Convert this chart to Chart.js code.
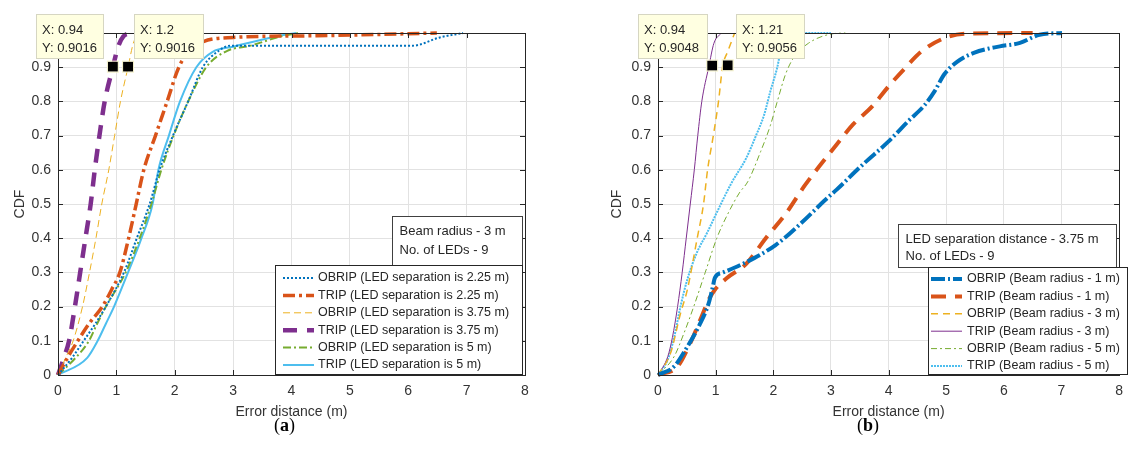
<!DOCTYPE html>
<html>
<head>
<meta charset="utf-8">
<script src="https://cdn.jsdelivr.net/npm/chart.js@4.4.0/dist/chart.umd.min.js"></script>
<style>
  body { margin: 0; background: #fff; width: 1131px; height: 467px; overflow: hidden; position: relative; }
  canvas { position: absolute; top: 0; }
  #chartA { left: 0; }
  #chartB { left: 580px; }
  .panel { position: absolute; top: 416px; font-family: "Liberation Serif", "DejaVu Serif", serif; font-size: 18px; line-height: 18px; color: #000; }
</style>
</head>
<body>
<canvas id="chartA" width="560" height="440"></canvas>
<canvas id="chartB" width="551" height="440"></canvas>
<div class="panel" style="left:274px">(<b>a</b>)</div>
<div class="panel" style="left:857px">(<b>b</b>)</div>
<script>
// ---------- panel (a): beam radius 3 m, different LED separations ----------
const errA_obrip225 = [0, 0.24, 0.44, 0.64, 0.82, 1.13, 1.35, 1.57, 1.74, 1.97, 2.23, 2.48, 2.77, 2.95, 4.5, 6.08, 6.54, 6.94];
const cdfA_obrip225 = [0, 0.05, 0.1, 0.15, 0.2, 0.3, 0.4, 0.5, 0.6, 0.7, 0.8, 0.9, 0.95, 0.963, 0.963, 0.963, 0.987, 1.0];
const errA_trip225 = [0, 0.16, 0.34, 0.53, 0.76, 0.92, 1.06, 1.21, 1.34, 1.47, 1.67, 1.87, 2.07, 2.26, 2.49, 3.0, 4.43, 6.49];
const cdfA_trip225 = [0, 0.05, 0.1, 0.15, 0.2, 0.25, 0.3, 0.4, 0.5, 0.6, 0.7, 0.8, 0.9, 0.95, 0.975, 0.987, 0.992, 1.0];
const errA_obrip375 = [0, 0.13, 0.26, 0.42, 0.54, 0.65, 0.75, 0.87, 0.97, 1.07, 1.2, 1.29, 1.38];
const cdfA_obrip375 = [0, 0.05, 0.1, 0.2, 0.3, 0.4, 0.5, 0.6, 0.7, 0.8, 0.9, 0.97, 1.0];
const errA_trip375 = [0, 0.1, 0.19, 0.29, 0.38, 0.47, 0.56, 0.63, 0.71, 0.8, 0.94, 1.03, 1.12, 1.25];
const cdfA_trip375 = [0, 0.05, 0.1, 0.2, 0.3, 0.4, 0.5, 0.6, 0.7, 0.8, 0.9, 0.96, 0.99, 1.0];
const errA_obrip5 = [0, 0.3, 0.53, 0.67, 0.82, 1.16, 1.4, 1.6, 1.77, 1.98, 2.23, 2.54, 2.9, 3.3, 3.86, 4.14];
const cdfA_obrip5 = [0, 0.05, 0.1, 0.15, 0.2, 0.3, 0.4, 0.5, 0.6, 0.7, 0.8, 0.9, 0.948, 0.963, 0.992, 1.0];
const errA_trip5 = [0, 0.5, 0.68, 0.82, 0.96, 1.2, 1.43, 1.62, 1.72, 1.9, 2.09, 2.37, 2.65, 3.0, 3.74, 4.08];
const cdfA_trip5 = [0, 0.05, 0.1, 0.15, 0.2, 0.3, 0.4, 0.5, 0.6, 0.7, 0.8, 0.9, 0.945, 0.96, 0.99, 1.0];
const labelsA = [
  'OBRIP (LED separation is 2.25 m)',
  'TRIP (LED separation is 2.25 m)',
  'OBRIP (LED separation is 3.75 m)',
  'TRIP (LED separation is 3.75 m)',
  'OBRIP (LED separation is 5 m)',
  'TRIP (LED separation is 5 m)'
];
const noteA = ['Beam radius - 3 m', 'No. of LEDs - 9'];
const tipsA = [[0.94, 0.9016], [1.2, 0.9016]];

// ---------- panel (b): LED separation 3.75 m, different beam radii ----------
const errB_obrip1 = [0, 0.28, 0.51, 0.73, 0.88, 0.94, 0.99, 1.13, 1.53, 2.04, 2.49, 2.89, 3.1, 3.55, 4.0, 4.34, 4.63, 4.8, 4.97, 5.2, 5.48, 5.93, 6.28, 6.62, 7.01];
const cdfB_obrip1 = [0, 0.025, 0.083, 0.15, 0.21, 0.25, 0.285, 0.3, 0.33, 0.38, 0.445, 0.51, 0.542, 0.615, 0.683, 0.742, 0.79, 0.83, 0.88, 0.917, 0.942, 0.961, 0.971, 0.995, 1.0];
const errB_trip1 = [0, 0.34, 0.56, 0.73, 0.88, 0.99, 1.19, 1.53, 1.87, 2.21, 2.55, 3.1, 3.38, 3.72, 4.0, 4.29, 4.57, 4.97, 5.36, 6.5];
const cdfB_trip1 = [0, 0.025, 0.093, 0.16, 0.22, 0.25, 0.283, 0.325, 0.4, 0.47, 0.555, 0.674, 0.732, 0.786, 0.844, 0.898, 0.946, 0.985, 0.998, 1.0];
const errB_obrip3 = [0, 0.22, 0.39, 0.51, 0.68, 0.79, 0.86, 0.96, 1.05, 1.12, 1.22, 1.33];
const cdfB_obrip3 = [0, 0.065, 0.18, 0.25, 0.4, 0.5, 0.6, 0.7, 0.8, 0.9, 0.95, 1.0];
const errB_trip3 = [0, 0.17, 0.25, 0.34, 0.42, 0.49, 0.56, 0.63, 0.69, 0.76, 0.88, 0.97, 1.1];
const cdfB_trip3 = [0, 0.054, 0.11, 0.2, 0.3, 0.4, 0.5, 0.6, 0.7, 0.8, 0.9, 0.97, 1.0];
const errB_obrip5 = [0, 0.28, 0.45, 0.62, 0.82, 1.02, 1.22, 1.41, 1.56, 1.78, 1.95, 2.07, 2.21, 2.35, 2.61, 3.0, 3.25];
const cdfB_obrip5 = [0, 0.054, 0.122, 0.2, 0.3, 0.4, 0.474, 0.532, 0.566, 0.653, 0.73, 0.8, 0.878, 0.927, 0.97, 0.997, 1.0];
const errB_trip5 = [0, 0.17, 0.28, 0.39, 0.51, 0.68, 0.85, 1.02, 1.27, 1.53, 1.7, 1.84, 1.95, 2.07, 2.15, 2.32, 2.5, 3.0];
const cdfB_trip5 = [0, 0.045, 0.11, 0.2, 0.28, 0.36, 0.415, 0.475, 0.56, 0.634, 0.7, 0.76, 0.83, 0.9, 0.966, 0.995, 1.0, 1.0];
const labelsB = [
  'OBRIP (Beam radius - 1 m)',
  'TRIP (Beam radius - 1 m)',
  'OBRIP (Beam radius - 3 m)',
  'TRIP (Beam radius - 3 m)',
  'OBRIP (Beam radius - 5 m)',
  'TRIP (Beam radius - 5 m)'
];
const noteB = ['LED separation distance - 3.75 m', 'No. of LEDs - 9'];
const tipsB = [[0.94, 0.9048], [1.21, 0.9056]];

const xTicks = [0, 1, 2, 3, 4, 5, 6, 7, 8];

// matlab default colours
const BLUE = '#0072BD', RED = '#D95319', YELLOW = '#EDB120', PURPLE = '#7E2F8E', GREEN = '#77AC30', CYAN = '#4DBEEE';
const FONT = '"Liberation Sans", Arial, Helvetica, sans-serif';
const INK = '#262626';

Chart.defaults.font.family = FONT;
Chart.defaults.color = '#333';

function pts(xs, ys) {
  return xs.map((x, i) => ({ x: x, y: ys[i] }));
}

function series(label, xs, ys, color, width, dash) {
  return {
    label: label,
    data: pts(xs, ys),
    borderColor: color,
    borderWidth: width,
    borderDash: dash,
    showLine: true,
    pointRadius: 0,
    cubicInterpolationMode: 'monotone',
    fill: false,
    clip: false
  };
}

// draws the matlab box, inner ticks, text box, legend and data tips
const matlabFrame = {
  id: 'matlabFrame',
  afterDatasetsDraw(chart, args, o) {
    const ctx = chart.ctx, a = chart.chartArea;
    const xs = chart.scales.x, ys = chart.scales.y;
    ctx.save();
    ctx.setLineDash([]);
    ctx.lineWidth = 1;
    ctx.strokeStyle = INK;
    ctx.beginPath();
    xs.ticks.forEach(t => {
      const p = Math.round(xs.getPixelForValue(t.value)) + 0.5;
      ctx.moveTo(p, a.bottom); ctx.lineTo(p, a.bottom - 5);
      ctx.moveTo(p, a.top); ctx.lineTo(p, a.top + 5);
    });
    ys.ticks.forEach(t => {
      const p = Math.round(ys.getPixelForValue(t.value)) + 0.5;
      ctx.moveTo(a.left, p); ctx.lineTo(a.left + 5, p);
      ctx.moveTo(a.right, p); ctx.lineTo(a.right - 5, p);
    });
    ctx.stroke();
    ctx.strokeRect(Math.round(a.left) + 0.5, Math.round(a.top) + 0.5, Math.round(a.width), Math.round(a.height));

    // text box
    const n = o.note;
    ctx.fillStyle = '#fff';
    ctx.fillRect(n.x, n.y, n.w, n.h);
    ctx.strokeStyle = '#404040';
    ctx.strokeRect(n.x + 0.5, n.y + 0.5, n.w, n.h);
    ctx.fillStyle = INK;
    ctx.font = '13px ' + FONT;
    ctx.textBaseline = 'middle';
    ctx.textAlign = 'left';
    n.lines.forEach((s, i) => ctx.fillText(s, n.x + n.pad, n.y + n.first + i * n.gap));

    // legend
    const L = o.legend;
    ctx.fillStyle = '#fff';
    ctx.fillRect(L.x, L.y, L.w, L.h);
    ctx.strokeStyle = INK;
    ctx.strokeRect(L.x + 0.5, L.y + 0.5, L.w, L.h);
    ctx.font = '12.5px ' + FONT;
    chart.data.datasets.forEach((ds, i) => {
      const yy = L.y + L.first + i * L.gap;
      ctx.strokeStyle = ds.borderColor;
      ctx.lineWidth = ds.borderWidth;
      ctx.setLineDash(ds.borderDash || []);
      ctx.beginPath();
      ctx.moveTo(L.x + L.s0, yy);
      ctx.lineTo(L.x + L.s1, yy);
      ctx.stroke();
      ctx.setLineDash([]);
      ctx.fillStyle = INK;
      ctx.fillText(ds.label, L.x + L.tx, yy);
    });

    // data tips
    ctx.lineWidth = 1;
    ctx.font = '13px ' + FONT;
    o.tips.forEach((t, i) => {
      const b = o.tipBoxes[i];
      ctx.fillStyle = '#ffffe1';
      ctx.fillRect(b[0], b[1], b[2], b[3]);
      ctx.strokeStyle = '#d6d6c2';
      ctx.strokeRect(b[0] + 0.5, b[1] + 0.5, b[2], b[3]);
      ctx.fillStyle = INK;
      ctx.fillText('X: ' + t[0], b[0] + 6, b[1] + 16);
      ctx.fillText('Y: ' + t[1], b[0] + 6, b[1] + 34);
      const mx = xs.getPixelForValue(t[0]), my = ys.getPixelForValue(t[1]);
      ctx.fillStyle = '#000';
      ctx.fillRect(mx - 5, my - 5, 10, 10);
      ctx.strokeStyle = '#f3f0c8';
      ctx.strokeRect(mx - 5.5, my - 5.5, 11, 11);
    });
    ctx.restore();
  }
};

function makeOptions(yWidth, padRight, cdfPad, frameOpts) {
  return {
    responsive: false,
    maintainAspectRatio: false,
    animation: false,
    layout: { padding: { left: 0, top: 33, right: padRight, bottom: 0 } },
    plugins: {
      legend: { display: false },
      tooltip: { enabled: false },
      matlabFrame: frameOpts
    },
    scales: {
      x: {
        type: 'linear', min: 0, max: 8,
        afterBuildTicks: s => { s.ticks = xTicks.map(v => ({ value: v })); },
        ticks: { padding: 8, color: '#333', font: { size: 14 }, maxRotation: 0 },
        grid: { color: '#e2e2e2', drawTicks: false },
        border: { display: false },
        title: { display: true, text: 'Error distance (m)', color: '#333', font: { size: 14 }, padding: { top: 0, bottom: 19 } },
        afterFit: s => { s.height = 65; }
      },
      y: {
        type: 'linear', min: 0, max: 1,
        ticks: { stepSize: 0.1, padding: 7, color: '#333', font: { size: 14 }, callback: v => String(Math.round(v * 10) / 10) },
        grid: { color: '#e2e2e2', drawTicks: false },
        border: { display: false },
        title: { display: true, text: 'CDF', color: '#333', font: { size: 14 }, padding: { top: cdfPad, bottom: 0 } },
        afterFit: s => { s.width = yWidth; }
      }
    }
  };
}

new Chart(document.getElementById('chartA'), {
  type: 'scatter',
  plugins: [matlabFrame],
  data: {
    datasets: [
      series(labelsA[0], errA_obrip225, cdfA_obrip225, BLUE, 2, [2, 2]),
      series(labelsA[1], errA_trip225, cdfA_trip225, RED, 3.5, [12, 4, 3, 4]),
      series(labelsA[2], errA_obrip375, cdfA_obrip375, YELLOW, 1, [7, 4]),
      series(labelsA[3], errA_trip375, cdfA_trip375, PURPLE, 4.5, [14, 10]),
      series(labelsA[4], errA_obrip5, cdfA_obrip5, GREEN, 2, [8, 3, 2, 3]),
      series(labelsA[5], errA_trip5, cdfA_trip5, CYAN, 2, [])
    ]
  },
  options: makeOptions(58, 35, 12, {
    note: { x: 392, y: 216, w: 130, h: 49, pad: 7.5, first: 15.7, gap: 18.3, lines: noteA },
    legend: { x: 275, y: 265, w: 247, h: 109, s0: 8, s1: 39, tx: 43, first: 13, gap: 17.4 },
    tips: tipsA,
    tipBoxes: [[36, 14, 67, 44], [134, 14, 69, 44]]
  })
});

new Chart(document.getElementById('chartB'), {
  type: 'scatter',
  plugins: [matlabFrame],
  data: {
    datasets: [
      series(labelsB[0], errB_obrip1, cdfB_obrip1, BLUE, 4, [14, 3, 2, 3]),
      series(labelsB[1], errB_trip1, cdfB_trip1, RED, 4, [15, 9]),
      series(labelsB[2], errB_obrip3, cdfB_obrip3, YELLOW, 1.5, [7, 5]),
      series(labelsB[3], errB_trip3, cdfB_trip3, PURPLE, 1, []),
      series(labelsB[4], errB_obrip5, cdfB_obrip5, GREEN, 1, [6, 3, 2, 3]),
      series(labelsB[5], errB_trip5, cdfB_trip5, CYAN, 2, [2, 1])
    ]
  },
  options: makeOptions(78, 4, 29, {
    note: { x: 318, y: 224, w: 218, h: 43, pad: 7.6, first: 15, gap: 17.7, lines: noteB },
    legend: { x: 348, y: 267, w: 199, h: 107, s0: 3, s1: 34, tx: 39, first: 12, gap: 17.4 },
    tips: tipsB,
    tipBoxes: [[58, 14, 69, 44], [156, 14, 68, 44]]
  })
});
</script>
</body>
</html>
